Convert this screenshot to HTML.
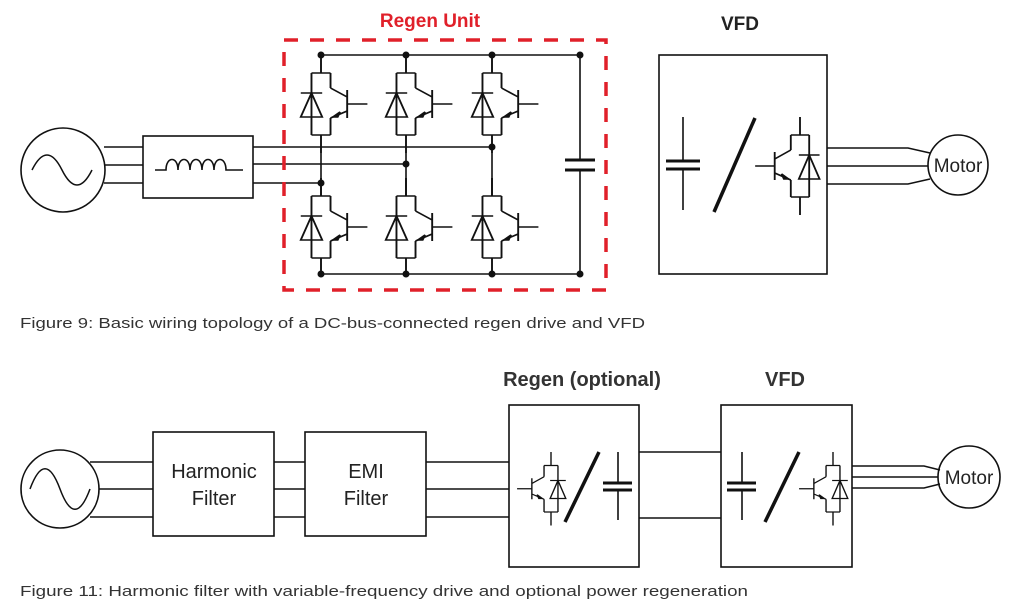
<!DOCTYPE html>
<html><head><meta charset="utf-8"><style>
html,body{margin:0;padding:0;background:#fff;}
svg{display:block;}
text{font-family:"Liberation Sans",sans-serif;}
</style></head><body>
<svg width="1013" height="615" viewBox="0 0 1013 615" xmlns="http://www.w3.org/2000/svg">
<defs>
<g id="igbt" fill="none" stroke="#111" stroke-width="1.6">
  <path d="M0,0V18 M-8,18H8 M-8,18V80 M-8,80H8 M8,18V33 M8,63V80 M0,80V98"/>
  <path d="M-8,38 L-17,62 H1 Z"/>
  <path d="M-17,38H1"/>
  <path d="M22,35V63 M22,49H39 M8,33L22,42 M22,56L8,63"/>
  <path d="M10,62 L16,57 L14,62 Z" fill="#111"/>
</g>
<g id="igbt2" fill="none" stroke="#111" stroke-width="1.6">
  <path d="M0,0V18 M-8,18H8 M-8,18V80 M-8,80H8 M8,18V33 M8,63V80 M0,80V98"/>
  <path d="M-8,38 L-17,62 H1 Z"/>
  <path d="M-17,38H1"/>
  <path d="M22,35V63 M22,49H39 M8,33L22,42 M22,56L8,63"/>
  <path d="M10,62 L16,57 L14,62 Z" fill="#111"/>
</g>
</defs>

<!-- ===== TOP DIAGRAM ===== -->
<g fill="none" stroke="#111" stroke-width="1.6">
  <circle cx="63" cy="170" r="42"/>
  <path d="M32,170 C42,150 52,150 62,170 C72,190 82,190 92,170" stroke-width="1.5"/>
  <path d="M104,147H143 M105,165H143 M104,183H143"/>
  <rect x="143" y="136" width="110" height="62"/>
  <path d="M155,170H166 C166,156 178,156 178,170 C178,156 190,156 190,170 C190,156 202,156 202,170 C202,156 214,156 214,170 C214,156 226,156 226,170 H243"/>
  <path d="M253,147H492 M253,164H406 M253,183H321"/>
  <path d="M321,55H580 M321,274H580 M580,55V160 M580,170V274"/>
  <path d="M565,160H595 M565,170H595" stroke-width="3"/>
  <path d="M321,153V196 M406,153V196 M492,153V196"/>
</g>
<g fill="#111">
  <circle cx="321" cy="55" r="3.5"/><circle cx="406" cy="55" r="3.5"/><circle cx="492" cy="55" r="3.5"/><circle cx="580" cy="55" r="3.5"/>
  <circle cx="321" cy="274" r="3.5"/><circle cx="406" cy="274" r="3.5"/><circle cx="492" cy="274" r="3.5"/><circle cx="580" cy="274" r="3.5"/>
  <circle cx="492" cy="147" r="3.5"/><circle cx="406" cy="164" r="3.5"/><circle cx="321" cy="183" r="3.5"/>
</g>
<use href="#igbt" transform="translate(321,55) scale(1.19,1)"/>
<use href="#igbt" transform="translate(406,55) scale(1.19,1)"/>
<use href="#igbt" transform="translate(492,55) scale(1.19,1)"/>
<use href="#igbt" transform="translate(321,178) scale(1.19,1)"/>
<use href="#igbt" transform="translate(406,178) scale(1.19,1)"/>
<use href="#igbt" transform="translate(492,178) scale(1.19,1)"/>
<rect x="284" y="40" width="322" height="250" fill="none" stroke="#e0202a" stroke-width="3.5" stroke-dasharray="14,12"/>
<text x="430" y="27" font-size="19" font-weight="bold" fill="#e0202a" text-anchor="middle">Regen Unit</text>

<text x="740" y="30" font-size="19" font-weight="bold" fill="#222" text-anchor="middle">VFD</text>
<g fill="none" stroke="#111" stroke-width="1.6">
  <rect x="659" y="55" width="168" height="219"/>
  <path d="M683,117V161 M683,169V210"/>
  <path d="M666,161H700 M666,169H700" stroke-width="3"/>
  <path d="M755,118L714,212" stroke-width="3.5"/>
  <path d="M827,148H908 L930,153 M827,166H928 M827,184H908 L930,179"/>
  <circle cx="958" cy="165" r="30"/>
</g>
<use href="#igbt2" transform="translate(800,117) scale(-1.15,1)"/>
<text x="958" y="172" font-size="19" fill="#222" text-anchor="middle">Motor</text>

<text x="20" y="328" font-size="15" fill="#333" textLength="625" lengthAdjust="spacingAndGlyphs">Figure 9: Basic wiring topology of a DC-bus-connected regen drive and VFD</text>

<!-- ===== BOTTOM DIAGRAM ===== -->
<g fill="none" stroke="#111" stroke-width="1.6">
  <circle cx="60" cy="489" r="39"/>
  <path d="M30,489 C40,462 50,462 60,489 C70,516 80,516 90,489" stroke-width="1.5"/>
  <path d="M90,462H153 M99,489H153 M90,517H153"/>
  <rect x="153" y="432" width="121" height="104"/>
  <path d="M274,462H305 M274,489H305 M274,517H305"/>
  <rect x="305" y="432" width="121" height="104"/>
  <path d="M426,462H509 M426,489H509 M426,517H509"/>
  <rect x="509" y="405" width="130" height="162"/>
  <path d="M639,452H721 M639,518H721"/>
  <rect x="721" y="405" width="131" height="162"/>
  <path d="M618,452V483 M618,490V520"/>
  <path d="M603,483H632 M603,490H632" stroke-width="3"/>
  <path d="M599,452L565,522" stroke-width="3.5"/>
  <path d="M742,452V483 M742,490V520"/>
  <path d="M727,483H756 M727,490H756" stroke-width="3"/>
  <path d="M799,452L765,522" stroke-width="3.5"/>
  <path d="M852,466H924 L940,470 M852,477H938 M852,488H924 L940,484"/>
  <circle cx="969" cy="477" r="31"/>
</g>
<use href="#igbt2" transform="translate(551,452) scale(-0.87,0.75)"/>
<use href="#igbt2" transform="translate(833,452) scale(-0.87,0.75)"/>
<text x="214" y="478" font-size="20" fill="#222" text-anchor="middle">Harmonic</text>
<text x="214" y="505" font-size="20" fill="#222" text-anchor="middle">Filter</text>
<text x="366" y="478" font-size="20" fill="#222" text-anchor="middle">EMI</text>
<text x="366" y="505" font-size="20" fill="#222" text-anchor="middle">Filter</text>
<text x="582" y="386" font-size="20" font-weight="bold" fill="#333" text-anchor="middle">Regen (optional)</text>
<text x="785" y="386" font-size="20" font-weight="bold" fill="#333" text-anchor="middle">VFD</text>
<text x="969" y="484" font-size="19" fill="#222" text-anchor="middle">Motor</text>

<text x="20" y="596" font-size="15" fill="#333" textLength="728" lengthAdjust="spacingAndGlyphs">Figure 11: Harmonic filter with variable-frequency drive and optional power regeneration</text>
</svg>
</body></html>
